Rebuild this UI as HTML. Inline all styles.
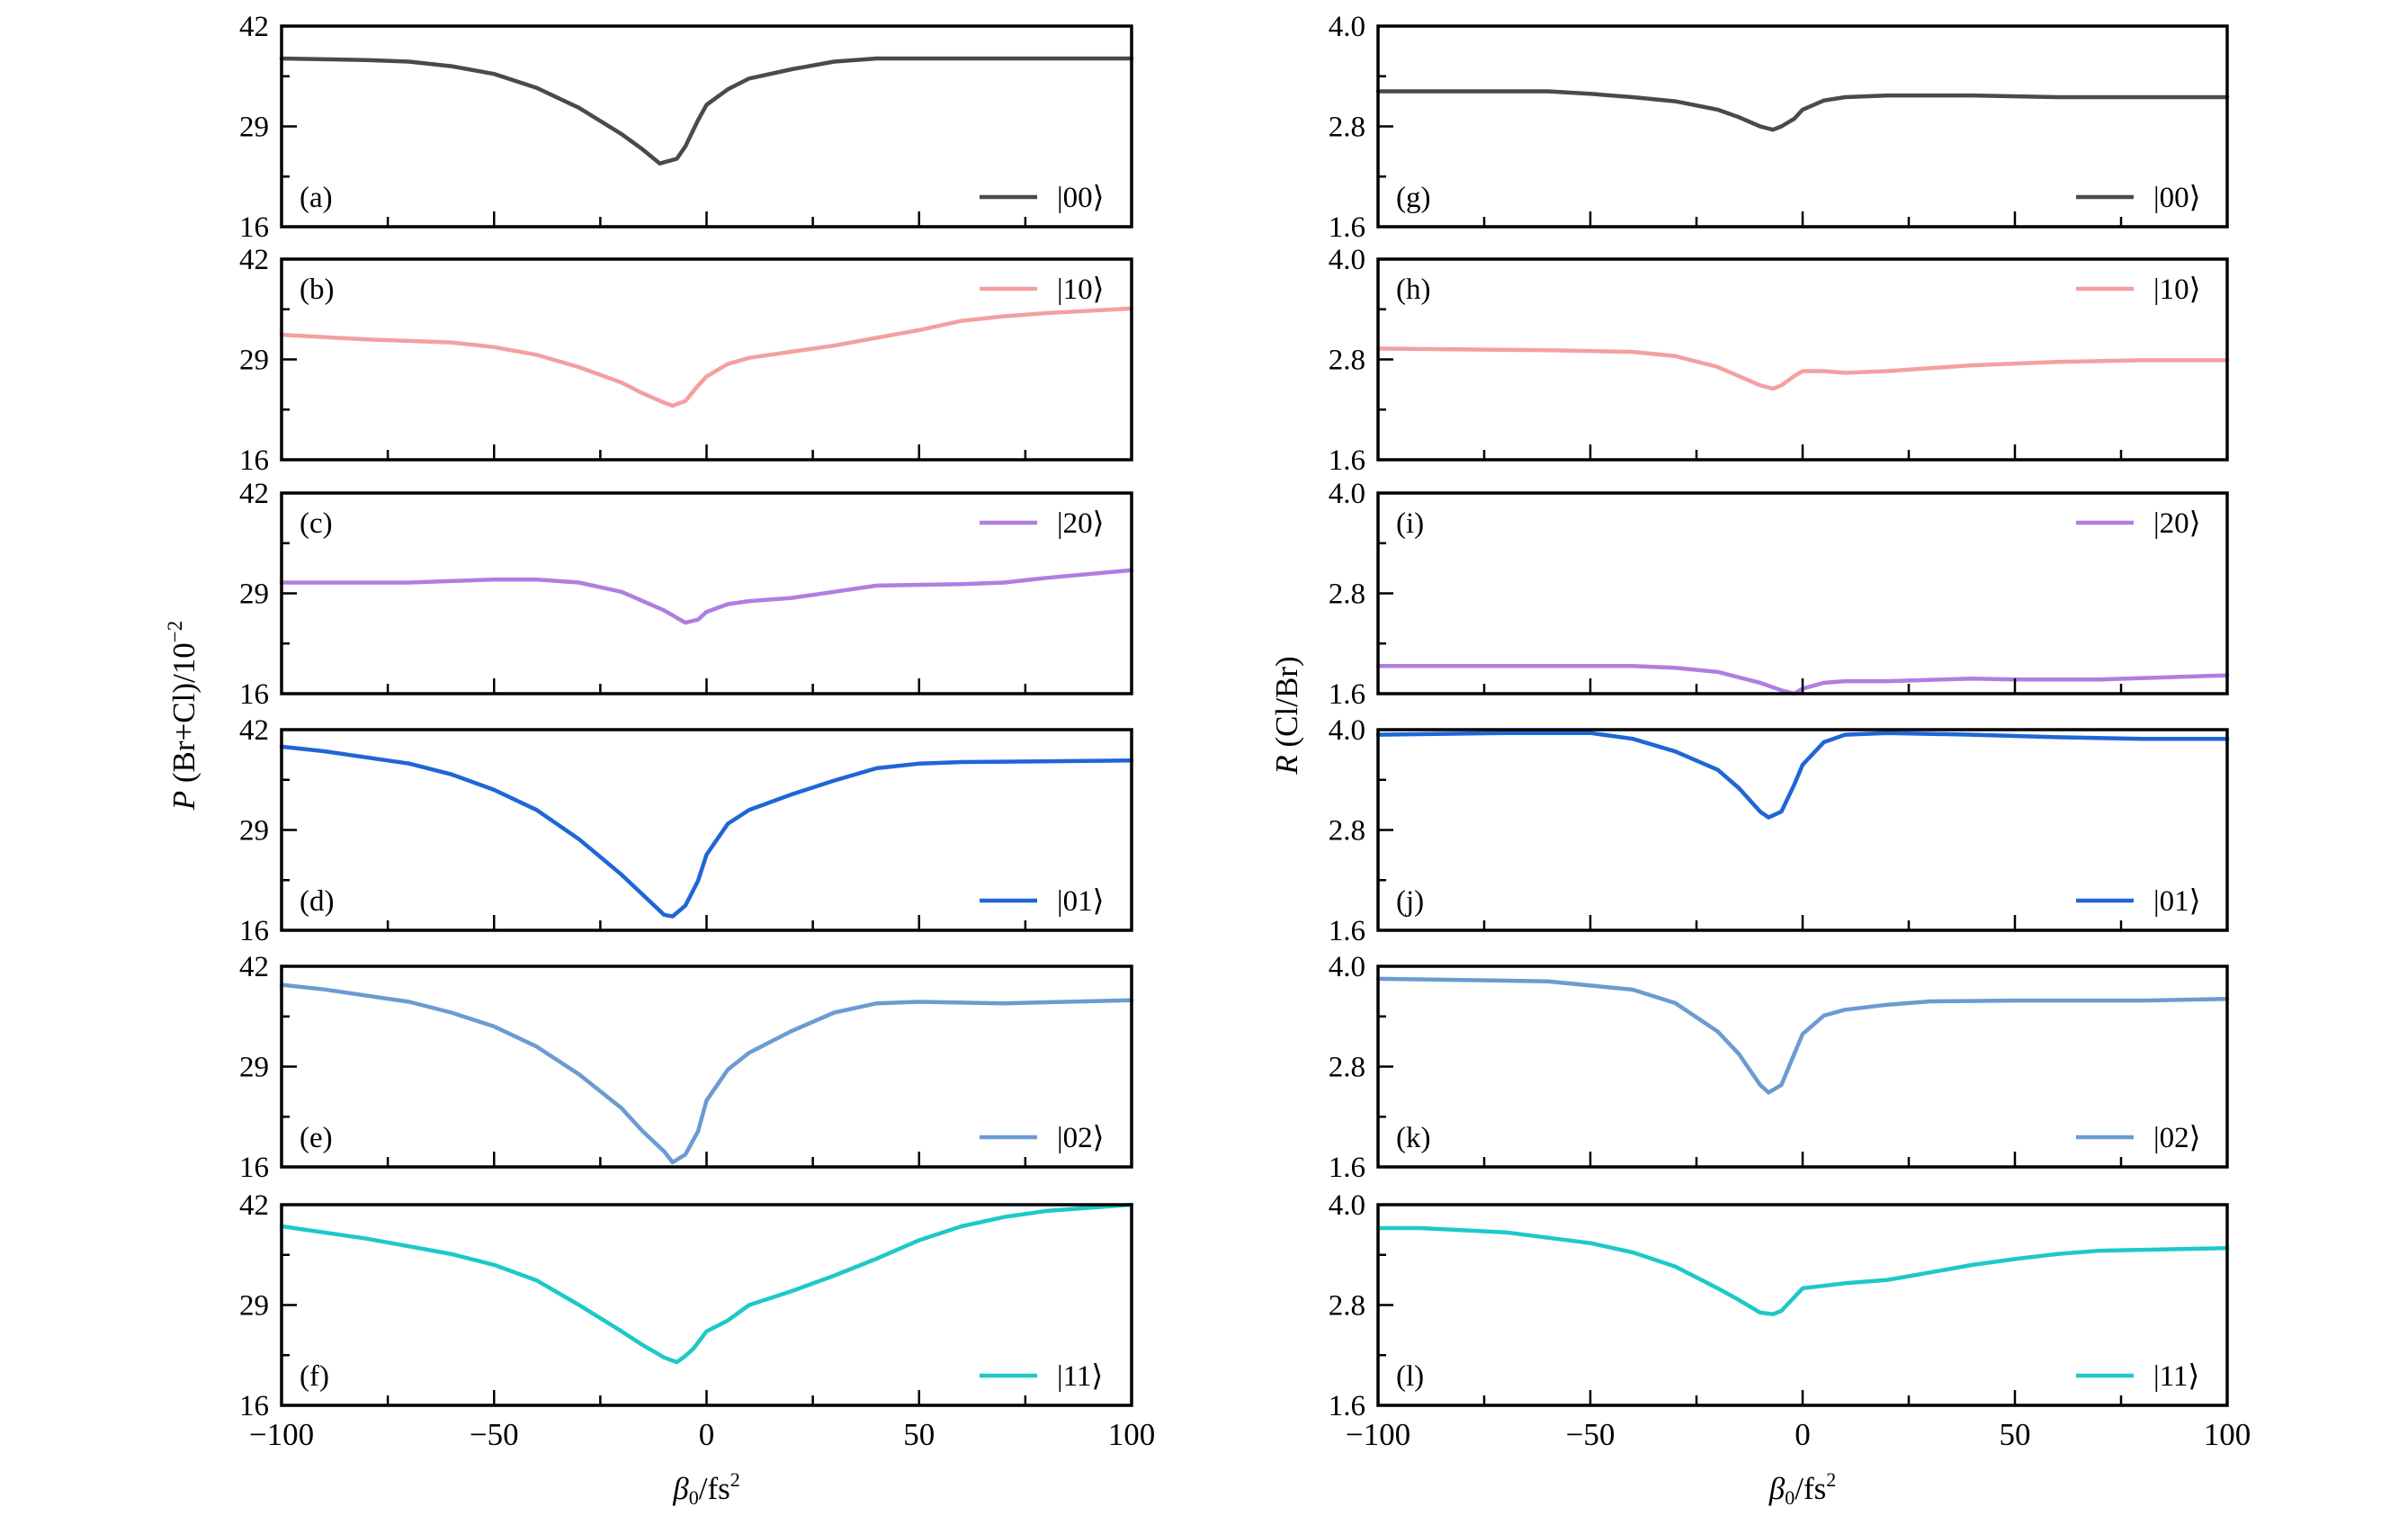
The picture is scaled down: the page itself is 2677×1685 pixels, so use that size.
<!DOCTYPE html>
<html><head><meta charset="utf-8"><style>
html,body{margin:0;padding:0;background:#fff}
svg{display:block}
text{font-family:"Liberation Serif","DejaVu Serif",serif;fill:#000}
</style></head><body>
<svg id="chart" width="2677" height="1685" viewBox="0 0 2677 1685" xmlns="http://www.w3.org/2000/svg"></svg>
<script>
const xTicks = [-100, -50, 0, 50, 100];
const leftYTicks = ["16", "29", "42"];
const rightYTicks = ["1.6", "2.8", "4.0"];
const stateLabels = ["|00⟩", "|10⟩", "|20⟩", "|01⟩", "|02⟩", "|11⟩"];
const leftPanelLetters = ["(a)", "(b)", "(c)", "(d)", "(e)", "(f)"];
const rightPanelLetters = ["(g)", "(h)", "(i)", "(j)", "(k)", "(l)"];
const colors = ["#4a4a4a", "#f4a0a0", "#b07ee0", "#1f66d6", "#6b9bd1", "#1ec8c8"];
const legendTop = [false, true, true, false, false, false];

const xA = [-100,-80,-70,-60,-50,-40,-30,-20,-15,-11,-7,-5,-2,0,5,10,20,30,40,100];
const pA = [37.8,37.6,37.4,36.8,35.8,34,31.4,28,26,24.2,24.8,26.4,29.8,31.8,33.8,35.2,36.4,37.4,37.8,37.8];
const xB = [-100,-80,-60,-50,-40,-30,-20,-15,-10,-8,-5,-2,0,5,10,20,30,40,50,60,70,80,100];
const pB = [32.2,31.6,31.2,30.6,29.6,28,26,24.6,23.4,23,23.6,25.6,26.8,28.4,29.2,30,30.8,31.8,32.8,34,34.6,35,35.6];
const xC = [-100,-70,-50,-40,-30,-20,-10,-5,-2,0,5,10,20,30,40,60,70,80,100];
const pC = [30.4,30.4,30.8,30.8,30.4,29.2,26.8,25.2,25.6,26.6,27.6,28,28.4,29.2,30,30.2,30.4,31,32];
const xD = [-100,-90,-70,-60,-50,-40,-30,-20,-15,-10,-8,-5,-2,0,5,10,20,30,40,50,60,100];
const pD = [39.8,39.2,37.6,36.2,34.2,31.6,27.8,23.2,20.6,18,17.8,19.2,22.4,25.8,29.8,31.6,33.6,35.4,37,37.6,37.8,38];
const xE = [-100,-90,-70,-60,-50,-40,-30,-20,-15,-10,-8,-5,-2,0,5,10,20,30,40,50,70,100];
const pE = [39.6,39,37.4,36,34.2,31.6,28,23.6,20.6,18,16.6,17.6,20.6,24.6,28.6,30.8,33.6,36,37.2,37.4,37.2,37.6];
const xF = [-100,-80,-60,-50,-40,-30,-20,-15,-10,-7,-5,-3,0,5,10,20,30,40,50,60,70,80,100];
const pF = [39.2,37.6,35.6,34.2,32.2,29,25.6,23.8,22.2,21.6,22.4,23.4,25.6,27,29,30.8,32.8,35,37.4,39.2,40.4,41.2,42];

const xG = [-100,-60,-50,-40,-30,-20,-15,-10,-7,-5,-2,0,5,10,20,40,60,80,100];
const rG = [3.22,3.22,3.19,3.15,3.1,3.0,2.91,2.8,2.76,2.8,2.89,3.0,3.11,3.15,3.17,3.17,3.15,3.15,3.15];
const xH = [-100,-60,-40,-30,-20,-15,-10,-7,-5,-2,0,5,10,20,40,60,80,100];
const rH = [2.93,2.91,2.89,2.84,2.71,2.6,2.49,2.45,2.49,2.6,2.66,2.66,2.64,2.66,2.73,2.77,2.79,2.79];
const xI = [-100,-40,-30,-20,-10,-5,-2,0,5,10,20,40,50,70,100];
const rI = [1.93,1.93,1.91,1.86,1.73,1.64,1.6,1.66,1.73,1.75,1.75,1.78,1.77,1.77,1.82];
const xJ = [-100,-70,-50,-40,-30,-20,-15,-10,-8,-5,-2,0,5,10,20,40,60,80,100];
const rJ = [3.94,3.96,3.96,3.89,3.74,3.52,3.3,3.02,2.95,3.02,3.34,3.58,3.85,3.94,3.96,3.94,3.91,3.89,3.89];
const xK = [-100,-60,-40,-30,-20,-15,-10,-8,-5,-2,0,5,10,20,30,50,80,100];
const rK = [3.85,3.82,3.72,3.56,3.22,2.95,2.58,2.49,2.58,2.95,3.19,3.41,3.48,3.54,3.58,3.59,3.59,3.61];
const xL = [-100,-90,-70,-50,-40,-30,-20,-15,-10,-7,-5,0,10,20,30,40,50,60,70,100];
const rL = [3.72,3.72,3.67,3.54,3.43,3.26,3.0,2.86,2.71,2.69,2.73,3.0,3.06,3.1,3.19,3.28,3.35,3.41,3.45,3.48];

const leftX = [xA,xB,xC,xD,xE,xF], leftY = [pA,pB,pC,pD,pE,pF];
const rightX = [xG,xH,xI,xJ,xK,xL], rightY = [rG,rH,rI,rJ,rK,rL];

const NS = "http://www.w3.org/2000/svg";
const svg = document.getElementById("chart");
function mk(tag, attrs, parent){ const e=document.createElementNS(NS,tag); for(const k in attrs) e.setAttribute(k,attrs[k]); (parent||svg).appendChild(e); return e; }

const panelTops = [29, 288, 548, 811, 1074, 1339];
const H = 223;
const cols = [
  {L:313, R:1258, ymin:16, ymax:42, ticks:leftYTicks, X:leftX, Y:leftY, letters:leftPanelLetters},
  {L:1532, R:2476, ymin:1.6, ymax:4.0, ticks:rightYTicks, X:rightX, Y:rightY, letters:rightPanelLetters}
];

cols.forEach((c) => {
  const xs = v => c.L + (v + 100) / 200 * (c.R - c.L);
  for (let i = 0; i < 6; i++) {
    const T = panelTops[i], B = T + H;
    const ys = v => B - (v - c.ymin) / (c.ymax - c.ymin) * H;
    const g = mk("g", {});
    
    
    const pts = c.X[i].map((x, k) => xs(x).toFixed(1) + "," + ys(c.Y[i][k]).toFixed(1)).join(" ");
    const pl = mk("polyline", {points:pts, fill:"none", stroke:colors[i], "stroke-width":4.5, "stroke-linejoin":"round", "stroke-linecap":"round"}, g);
    
    
    const fr = mk("rect", {x:c.L, y:T, width:c.R-c.L, height:H, fill:"none", stroke:"#000", "stroke-width":3.5}, g);
    
    
    for (let v = -100; v <= 100; v += 25) {
      const major = v % 50 === 0;
      const t = mk("line", {x1:xs(v), x2:xs(v), y1:B, y2:B-(major?17:11), stroke:"#000", "stroke-width":2.5}, g);
      
      
    }
    for (let k = 0; k <= 4; k++) {
      const yy = B - k / 4 * H;
      const t = mk("line", {x1:c.L, x2:c.L+(k%2===0?17:9), y1:yy, y2:yy, stroke:"#000", "stroke-width":2.5}, g);
      
      
    }
    c.ticks.forEach((lab, k) => {
      const yy = B - k / 2 * H;
      const t = mk("text", {x:c.L-14, y:yy+11, "font-size":33, "text-anchor":"end"}, g);
      t.textContent = lab;
      
      
    });
    const ly = legendTop[i] ? T + 33 : B - 33;
    const pt = mk("text", {x:c.L+20, y:ly+11, "font-size":33}, g);
    pt.textContent = c.letters[i];
    
    
    const lg = mk("line", {x1:c.L+776, x2:c.L+840, y1:ly, y2:ly, stroke:colors[i], "stroke-width":4.5}, g);
    
    
    const lt = mk("text", {x:c.L+862, y:ly+11, "font-size":33}, g);
    lt.textContent = stateLabels[i];
    
    
  }
  xTicks.forEach(v => {
    const t = mk("text", {x:xs(v), y:1606, "font-size":35, "text-anchor":"middle"});
    t.textContent = v < 0 ? "\u2212" + Math.abs(v) : String(v);
    
    
  });
  const xt = mk("text", {x:(c.L+c.R)/2, y:1666, "font-size":35, "text-anchor":"middle"});
  xt.innerHTML = '<tspan font-style="italic">β</tspan><tspan font-size="22" dy="6">0</tspan><tspan dy="-6">/fs</tspan><tspan font-size="22" dy="-14">2</tspan>';
  
  
});

const yl = mk("text", {x:0, y:0, "font-size":35, "text-anchor":"middle", transform:"translate(216,795) rotate(-90)"});
yl.innerHTML = '<tspan font-style="italic">P</tspan> (Br+Cl)/10<tspan font-size="23" dy="-14">−2</tspan>';


const yr = mk("text", {x:0, y:0, "font-size":35, "text-anchor":"middle", transform:"translate(1442,795) rotate(-90)"});
yr.innerHTML = '<tspan font-style="italic">R</tspan> (Cl/Br)';


</script>
</body></html>
